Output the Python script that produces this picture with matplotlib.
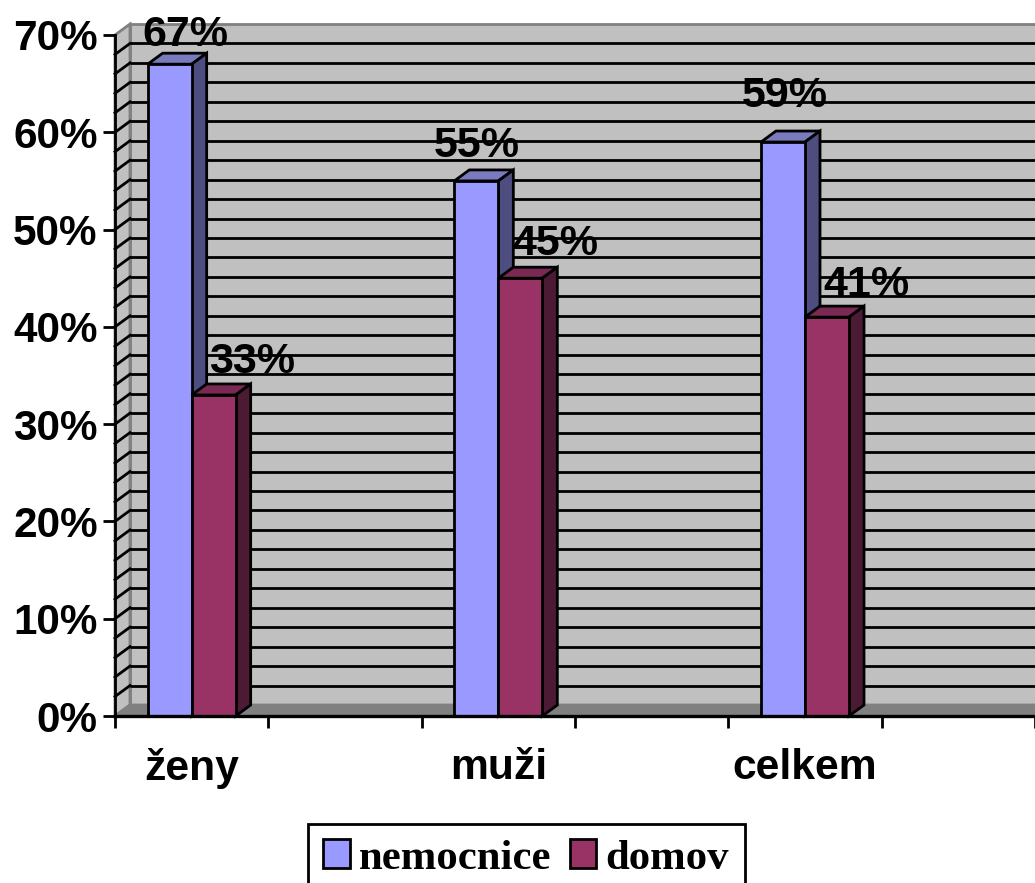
import matplotlib
matplotlib.use("Agg")
import matplotlib.pyplot as plt
import numpy as np
from matplotlib.patches import Polygon

categories = ["ženy", "", "muži", "", "celkem", ""]
hospital = [67, None, 55, None, 59, None]
home = [33, None, 45, None, 41, None]
series_names = ["nemocnice", "domov"]
y_ticks = [0, 10, 20, 30, 40, 50, 60, 70]
grid_levels = list(range(0, 72, 2))

W, H = 1035, 883
px_per_cat = 920 / 6
px_per_pct = 681 / 70
depth_x = 15 / px_per_cat
depth_y = 11 / px_per_pct
bar_w = 44 / px_per_cat

WALL, WALL_EDGE, FLOOR = "#C0C0C0", "#808080", "#808080"
STYLE_A = ("#9999FF", "#7A7ABF", "#4D4D80")
STYLE_B = ("#993366", "#7A2952", "#4D1A33")
LW = 2.0

fig = plt.figure(figsize=(W / 100, H / 100), dpi=100)
ax = fig.add_axes([115 / W, (H - 716) / H, 920 / W, (716 - 24) / H])
ax.set_xlim(-0.5, 5.5)
ax.set_ylim(0, 692 / px_per_pct)
ax.set_facecolor("white")

# back wall, side wall and floor of the 3D box
x0, x1 = -0.5, 5.5
ax.add_patch(Polygon([(x0 + depth_x, depth_y), (x1 + 1, depth_y), (x1 + 1, 70 + depth_y), (x0 + depth_x, 70 + depth_y)],
                     fc=WALL, ec=WALL_EDGE, lw=LW, zorder=1, clip_on=False))
ax.add_patch(Polygon([(x0, 0), (x0 + depth_x, depth_y), (x0 + depth_x, 70 + depth_y), (x0, 70)],
                     fc=WALL, ec=WALL_EDGE, lw=LW, zorder=1, clip_on=False))

for lvl in grid_levels:
    if 0 < lvl < 70:
        ax.plot([x0 + depth_x, x1], [lvl + depth_y] * 2, color="black", lw=LW, zorder=2,
                solid_capstyle="butt", clip_on=False)
        ax.plot([x0, x0 + depth_x], [lvl, lvl + depth_y], color="black", lw=LW, zorder=2, clip_on=False)

ax.add_patch(Polygon([(x0, 0), (x0 + depth_x, depth_y), (x1 + 1, depth_y), (x1 + 1, 0)],
                     fc=FLOOR, ec=WALL_EDGE, lw=LW, zorder=2.5, clip_on=False))


def draw_series(values, offset, style, name, z):
    """Front faces come from ax.bar; the top and side faces are derived from each value."""
    xs = [i + offset for i, v in enumerate(values) if v is not None]
    vs = [v for v in values if v is not None]
    bars = ax.bar(xs, vs, width=bar_w, color=style[0], edgecolor="black", linewidth=LW,
                  zorder=z + 0.2, label=name, clip_on=False)
    for x, v in zip(xs, vs):
        l, r = x - bar_w / 2, x + bar_w / 2
        ax.add_patch(Polygon([(l, v), (l + depth_x, v + depth_y), (r + depth_x, v + depth_y), (r, v)],
                             fc=style[1], ec="black", lw=LW, zorder=z, clip_on=False))
        ax.add_patch(Polygon([(r, 0), (r + depth_x, depth_y), (r + depth_x, v + depth_y), (r, v)],
                             fc=style[2], ec="black", lw=LW, zorder=z, clip_on=False))
    return bars


draw_series(hospital, -bar_w / 2, STYLE_A, series_names[0], 3)
draw_series(home, bar_w / 2, STYLE_B, series_names[1], 4)

# value labels, nudged individually so they clear the neighbouring bars
label_font = dict(family="Liberation Sans", fontweight="bold", fontsize=31, color="black",
                  ha="center", va="center", zorder=6, annotation_clip=False)
shifts_a = {0: (16, 29), 2: (0, 35), 4: (2, 46)}
shifts_b = {0: (38, 33), 2: (35, 34), 4: (39, 32)}
for i, v in enumerate(hospital):
    if v is not None:
        ax.annotate(f"{v}%", xy=(i - bar_w / 2, v), xytext=shifts_a[i], textcoords="offset pixels", **label_font)
for i, v in enumerate(home):
    if v is not None:
        ax.annotate(f"{v}%", xy=(i + bar_w / 2, v), xytext=shifts_b[i], textcoords="offset pixels", **label_font)

# axes
for side in ("top", "right"):
    ax.spines[side].set_visible(False)
ax.spines["left"].set_bounds(0, 70)
ax.spines["left"].set_linewidth(LW)
ax.spines["bottom"].set_linewidth(LW + 0.4)
ax.spines["left"].set_zorder(5)
ax.spines["bottom"].set_zorder(5)

ax.set_yticks(y_ticks, [f"{t}%" for t in y_ticks])
ax.tick_params(axis="y", length=9, width=LW, pad=3.5, labelsize=30.4)
ax.set_xticks(np.arange(-0.5, 6.0, 1.0))
ax.tick_params(axis="x", which="major", length=8.5, width=LW, labelbottom=False)
ax.set_xticks(np.arange(6), categories, minor=True)
ax.tick_params(axis="x", which="minor", length=0, pad=23, labelsize=30.7)
for lab in ax.get_yticklabels() + ax.get_xticklabels(minor=True):
    lab.set_fontfamily("Liberation Sans")
    lab.set_fontweight("bold")

leg = fig.legend(loc="lower left", bbox_to_anchor=(308 / W, -10 / H), ncols=2, frameon=True, fancybox=False,
                 edgecolor="black", framealpha=1, borderaxespad=0, borderpad=0.36,
                 handlelength=0.62, handleheight=0.64, handletextpad=0.22, columnspacing=0.42,
                 prop=dict(family="Liberation Serif", weight="bold", size=30.8))
leg.get_frame().set_linewidth(LW)
for h in leg.legend_handles:
    h.set_linewidth(LW)

fig.savefig("out.png", dpi=100)
